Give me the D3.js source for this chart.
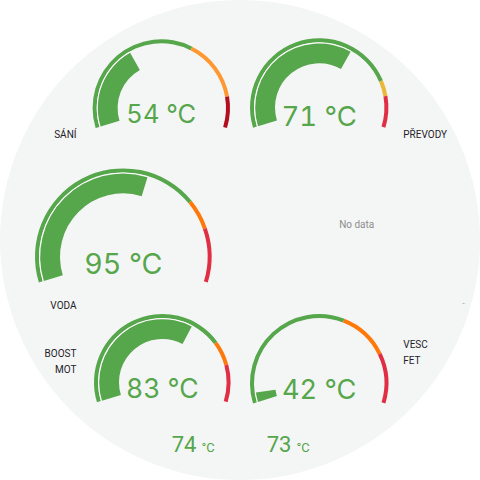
<!DOCTYPE html>
<html lang="cs">
<head>
<meta charset="utf-8">
<title>Teploty</title>
<script src="https://cdn.jsdelivr.net/npm/d3@7"></script>
<style>
  body { margin: 0; background: #fff; }
  text { font-family: Roboto, "Noto Sans", sans-serif; }
  text.value { font-family: Inter, Roboto, sans-serif; font-variant-numeric: tabular-nums; }
</style>
</head>
<body>
<div id="vis"></div>
<script>
// hodnoty odečtené z panelu
var names = [["SÁNÍ"], ["PŘEVODY"], ["VODA"], ["BOOST", "MOT"], ["VESC", "FET"]];
var values = [54, 71, 95, 83, 42];
var mins = [25, 20, 40, 20, 40];
var maxs = [105, 100, 135, 120, 90];
var thresholds = [[75, 95], [85, 90], [110, 119], [95, 105], [70, 80]];
var thresholdColors = [
  ["#56a64b", "#ff9830", "#b20e20"],
  ["#56a64b", "#eab839", "#e02f44"],
  ["#56a64b", "#ff780a", "#e02f44"],
  ["#56a64b", "#ff780a", "#e02f44"],
  ["#56a64b", "#ff780a", "#e02f44"]
];
var unit = "°C";
var statValues = [74, 73];
var noDataText = "No data";

// rozložení panelu (pozice, velikosti)
var layout = [
  {cx: 161.3, cy: 108, r: 68.7, fs: 25.5, ty: 15, lx: 76.5, ly: 138.3, anchor: "end"},
  {cx: 319.2, cy: 107.5, r: 69.2, fs: 27.5, ty: 18.5, lx: 403.3, ly: 138.3, anchor: "start"},
  {cx: 123.3, cy: 256.7, r: 88.3, fs: 28.6, ty: 17.3, lx: 76.5, ly: 309.3, anchor: "end"},
  {cx: 162.3, cy: 382.3, r: 68.3, fs: 26.5, ty: 16, lx: 76.5, ly: 356.7, anchor: "end"},
  {cx: 319.2, cy: 383.2, r: 69.2, fs: 27.2, ty: 15.8, lx: 403.3, ly: 347.7, anchor: "start"}
];
var statX = [171.7, 266.7];
var A = 107 * Math.PI / 180;

var chart = function() {
  var svg;
  return {
    init: function(id) {
      svg = d3.select(id).append("svg").attr("width", 480).attr("height", 480);
      svg.append("circle").attr("cx", 240).attr("cy", 240).attr("r", 240).attr("fill", "#f4f5f5");
    },
    draw: function() {
      values.forEach(function(v, i) {
        var L = layout[i];
        var angle = d3.scaleLinear().domain([mins[i], maxs[i]]).range([-A, A]).clamp(true);
        var g = svg.append("g").attr("transform", "translate(" + L.cx + "," + L.cy + ")");

        // prahy - vnější prstenec
        var bounds = [mins[i]].concat(thresholds[i]).concat([maxs[i]]);
        var ring = d3.arc().innerRadius(L.r - 4).outerRadius(L.r);
        g.selectAll("path.ring").data(d3.pairs(bounds)).enter().append("path")
          .attr("class", "ring")
          .attr("d", function(d) { return ring({startAngle: angle(d[0]), endAngle: angle(d[1])}); })
          .attr("fill", function(d, j) { return thresholdColors[i][j]; });

        // hodnota
        var col = thresholdColors[i][d3.bisectRight(thresholds[i], v)];
        g.append("path")
          .attr("d", d3.arc().innerRadius(L.r - 5.2).outerRadius(L.r - 4.2)({startAngle: angle(mins[i]), endAngle: angle(v)}))
          .attr("fill", "#fff");
        g.append("path")
          .attr("d", d3.arc().innerRadius(L.r - 25).outerRadius(L.r - 5.2)({startAngle: angle(mins[i]), endAngle: angle(v)}))
          .attr("fill", col);

        g.append("text").attr("class", "value").attr("x", 0).attr("y", L.ty)
          .attr("text-anchor", "middle").attr("font-size", L.fs).attr("fill", col)
          .text(v + " " + unit);

        svg.append("g").selectAll("text").data(names[i]).enter().append("text")
          .attr("x", L.lx).attr("y", function(d, j) { return L.ly + j * 16.3; })
          .attr("text-anchor", L.anchor).attr("font-size", 10).attr("font-weight", 400)
          .attr("fill", "#1f2329")
          .text(function(d) { return d; });
      });

      svg.append("text").attr("x", 356.7).attr("y", 228).attr("text-anchor", "middle")
        .attr("font-size", 10).attr("fill", "#8e8e8e").text(noDataText);
      svg.append("text").attr("x", 463.5).attr("y", 306).attr("text-anchor", "middle")
        .attr("font-size", 8).attr("fill", "#8e8e8e").text("-");

      statValues.forEach(function(v, i) {
        var t = svg.append("text").attr("x", statX[i]).attr("y", 451.7).attr("fill", "#56a64b");
        t.append("tspan").attr("font-size", 22).text(v);
        t.append("tspan").attr("font-size", 13).attr("dx", 5).text(unit);
      });
    }
  };
}();

chart.init("#vis");
chart.draw();
</script>
</body>
</html>
